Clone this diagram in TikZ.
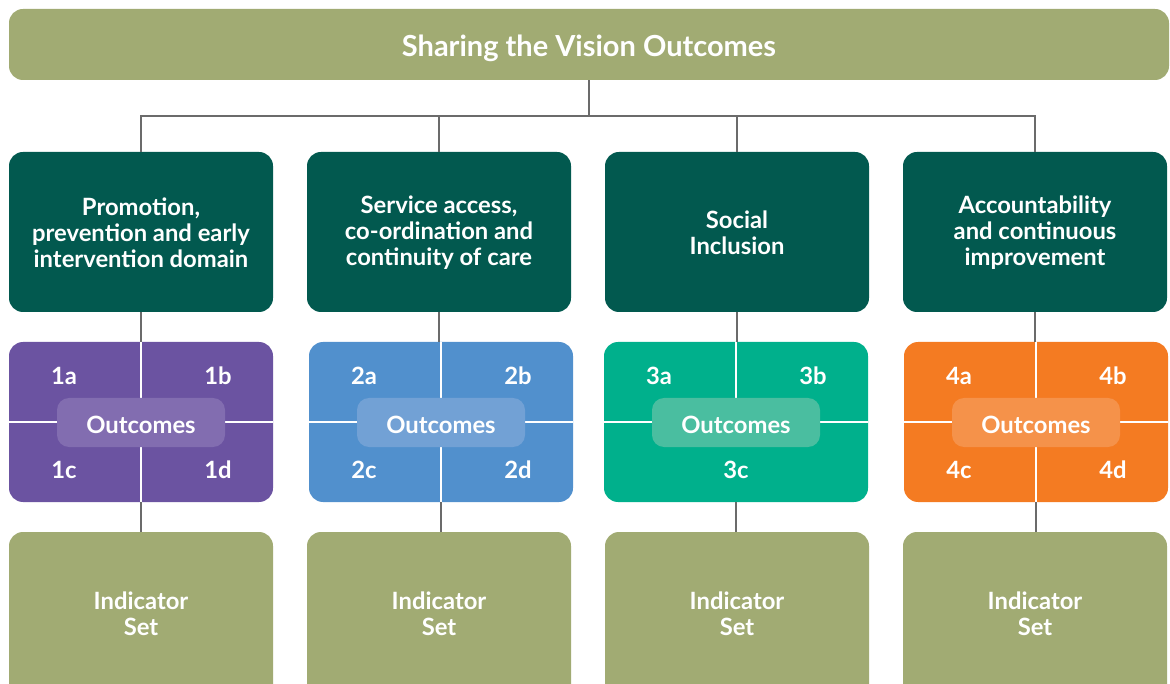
\documentclass[tikz,border=0pt]{standalone}
\usepackage{fontspec}
\setmainfont{Lato}
\definecolor{olive}{HTML}{A1AB73}
\definecolor{teal}{HTML}{02594F}
\definecolor{purp}{HTML}{6B53A1}
\definecolor{purpl}{HTML}{826DB0}
\definecolor{blu}{HTML}{5190CD}
\definecolor{blul}{HTML}{72A1D5}
\definecolor{grn}{HTML}{00B08C}
\definecolor{grnl}{HTML}{4ABEA0}
\definecolor{orn}{HTML}{F47B22}
\definecolor{ornl}{HTML}{F5924A}
\definecolor{conn}{HTML}{6B6B6B}
\tikzset{
  titlebox/.style={fill=olive, rounded corners=14pt, minimum width=1160pt, minimum height=71pt, inner sep=0pt},
  titletext/.style={text=white, inner sep=0pt, font=\bfseries\fontsize{29}{33}\selectfont},
  domainbox/.style={fill=teal, rounded corners=14pt, minimum width=264pt, minimum height=160pt, inner sep=0pt},
  boxtext/.style={text=white, inner sep=0pt, align=center, font=\bfseries\fontsize{23.8}{26}\selectfont},
  outbox/.style={fill=#1, rounded corners=14pt, minimum width=264pt, minimum height=160pt, inner sep=0pt},
  pill/.style={fill=#1, rounded corners=12pt, minimum width=168pt, minimum height=49pt, inner sep=0pt, text height=21pt, text depth=0pt, text=white, font=\bfseries\fontsize{23.8}{26}\selectfont},
  oclabel/.style={text=white, inner sep=0pt, font=\bfseries\fontsize{23.8}{26}\selectfont},
  indbox/.style={fill=olive, rounded corners=14pt, minimum width=264pt, minimum height=168pt, inner sep=0pt},
  connector/.style={draw=conn, line width=1.2pt},
  divider/.style={draw=white, line width=1.3pt},
}
\begin{document}
\begin{tikzpicture}[x=1pt,y=-1pt]
\useasboundingbox (0,0) rectangle (1170,684);
% title
\node[titlebox] (top) at (589,44.5) {};
\node[titletext] (toptext) at (589,48) {Sharing the Vision Outcomes};
\coordinate (hub) at (589,116);
% domains
\node[domainbox] (d1) at (141,232) {};
\node[domainbox] (d2) at (439,232) {};
\node[domainbox] (d3) at (737,232) {};
\node[domainbox] (d4) at (1035,232) {};
\node[boxtext] (t1) at (141,232.5) {Promotion,\\prevention and early\\intervention domain};
\node[boxtext] (t2) at (439,232.5) {Service access,\\co-ordination and\\continuity of care};
\node[boxtext] (t3) at (737,232.5) {Social\\Inclusion};
\node[boxtext] (t4) at (1035,232.5) {Accountability\\and continuous\\improvement};
\draw[connector] (top.south) -- (hub);
\draw[connector] (hub) -| (d1.north);
\draw[connector] (hub) -| (d2.north);
\draw[connector] (hub) -| (d3.north);
\draw[connector] (hub) -| (d4.north);
% outcome boxes
\node[outbox=purp] (o1) at (141,422) {};
\node[outbox=blu] (o2) at (441,422) {};
\node[outbox=grn] (o3) at (736,422) {};
\node[outbox=orn] (o4) at (1036,422) {};
% indicator boxes
\node[indbox] (i1) at (141,616) {};
\node[indbox] (i2) at (439,616) {};
\node[indbox] (i3) at (737,616) {};
\node[indbox] (i4) at (1035,616) {};
\node[boxtext] (s1) at (141,613.5) {Indicator\\Set};
\node[boxtext] (s2) at (439,613.5) {Indicator\\Set};
\node[boxtext] (s3) at (737,613.5) {Indicator\\Set};
\node[boxtext] (s4) at (1035,613.5) {Indicator\\Set};
% connectors domain -> outcomes -> indicators
\foreach \k in {1,2,3,4}{
  \draw[connector] (d\k.south) -- (d\k.south |- o\k.north);
  \draw[connector] (o\k.south) -- (o\k.south |- i\k.north);
}
% dividers
\draw[divider] (o1.west) -- (o1.east);
\draw[divider] (o1.north) -- (o1.south);
\draw[divider] (o2.west) -- (o2.east);
\draw[divider] (o2.north) -- (o2.south);
\draw[divider] (o3.west) -- (o3.east);
\draw[divider] (o3.north) -- (o3.center);
\draw[divider] (o4.west) -- (o4.east);
\draw[divider] (o4.north) -- (o4.south);
% pills
\node[pill=purpl] (p1) at ([yshift=-0.5pt]o1.center) {Outcomes};
\node[pill=blul] (p2) at ([yshift=-0.5pt]o2.center) {Outcomes};
\node[pill=grnl] (p3) at ([yshift=-0.5pt]o3.center) {Outcomes};
\node[pill=ornl] (p4) at ([yshift=-0.5pt]o4.center) {Outcomes};
% labels
\node[oclabel] (l1a) at (64,375.5) {1a};
\node[oclabel] (l1b) at (218,375.5) {1b};
\node[oclabel] (l1c) at (64,470) {1c};
\node[oclabel] (l1d) at (218,470) {1d};
\node[oclabel] (l2a) at (364,375.5) {2a};
\node[oclabel] (l2b) at (518,375.5) {2b};
\node[oclabel] (l2c) at (364,470) {2c};
\node[oclabel] (l2d) at (518,470) {2d};
\node[oclabel] (l3a) at (659,375.5) {3a};
\node[oclabel] (l3b) at (813,375.5) {3b};
\node[oclabel] (l3c) at (736,470) {3c};
\node[oclabel] (l4a) at (959,375.5) {4a};
\node[oclabel] (l4b) at (1113,375.5) {4b};
\node[oclabel] (l4c) at (959,470) {4c};
\node[oclabel] (l4d) at (1113,470) {4d};
\end{tikzpicture}
\end{document}
